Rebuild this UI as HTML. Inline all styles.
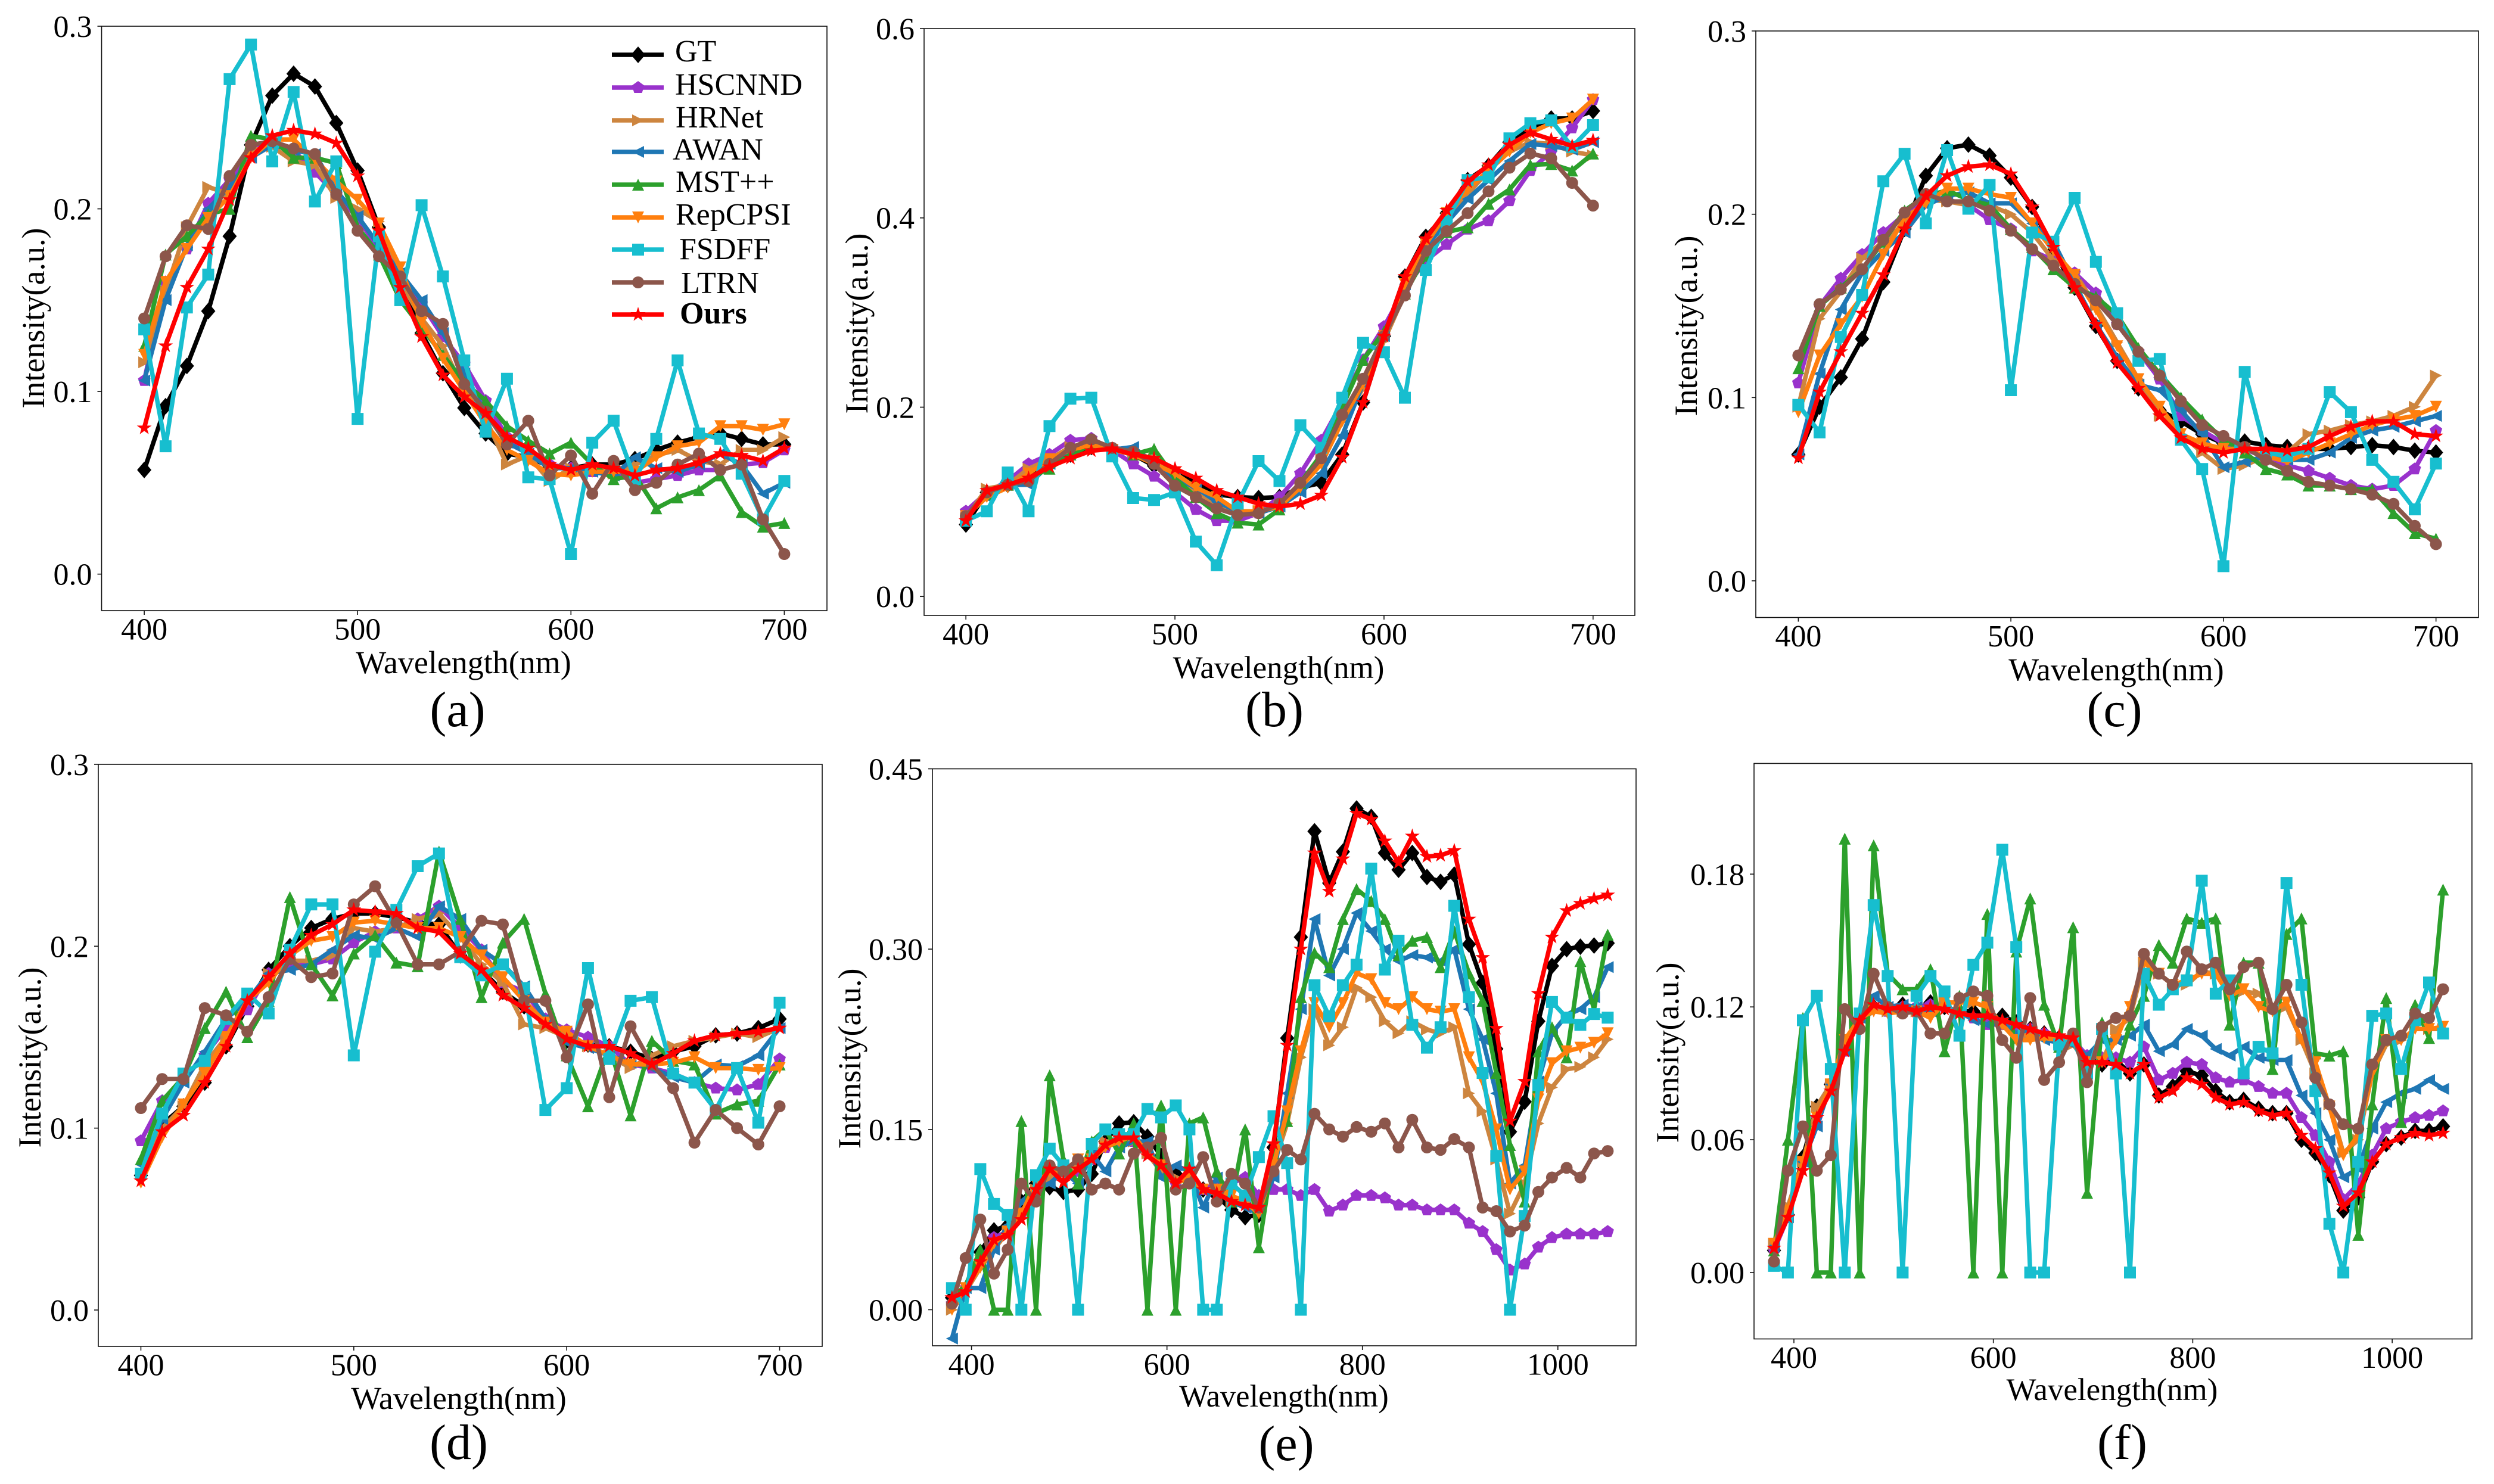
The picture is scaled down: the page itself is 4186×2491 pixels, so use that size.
<!DOCTYPE html>
<html lang="en">
<head>
<meta charset="utf-8">
<title>Spectral intensity comparison</title>
<style>
html,body{margin:0;padding:0;background:#fff;}
svg{display:block;}
text{font-family:"Liberation Serif",serif;fill:#000;}
.t{font-size:52px;}
.cap{font-size:84px;text-anchor:middle;}
.xl{font-size:54px;text-anchor:middle;}
.yl{font-size:54px;text-anchor:middle;}
</style>
</head>
<body>
<svg id="figure" xmlns="http://www.w3.org/2000/svg" width="4186" height="2491" viewBox="0 0 4186 2491">
<rect width="4186" height="2491" fill="#fff"/>
<g id="panels"></g>

<g>
<text class="xl" x="778" y="1130">Wavelength(nm)</text>
<text class="xl" x="2146" y="1138" style="font-size:53px">Wavelength(nm)</text>
<text class="xl" x="3552" y="1142">Wavelength(nm)</text>
<text class="xl" x="770" y="2365">Wavelength(nm)</text>
<text class="xl" x="2155" y="2361" style="font-size:52.5px">Wavelength(nm)</text>
<text class="xl" x="3545" y="2350" style="font-size:53px">Wavelength(nm)</text>
<text class="yl" transform="translate(74 534) rotate(-90)">Intensity(a.u.)</text>
<text class="yl" transform="translate(1456 543) rotate(-90)">Intensity(a.u.)</text>
<text class="yl" transform="translate(2848 547) rotate(-90)">Intensity(a.u.)</text>
<text class="yl" transform="translate(68 1775) rotate(-90)">Intensity(a.u.)</text>
<text class="yl" transform="translate(1444 1777) rotate(-90)">Intensity(a.u.)</text>
<text class="yl" transform="translate(2817 1767) rotate(-90)">Intensity(a.u.)</text>
</g>

<g>
<text class="cap" x="768" y="1219">(a)</text>
<text class="cap" x="2139" y="1219">(b)</text>
<text class="cap" x="3549" y="1219">(c)</text>
<text class="cap" x="770" y="2449">(d)</text>
<text class="cap" x="2159" y="2451">(e)</text>
<text class="cap" x="3562" y="2449">(f)</text>
</g>

<g stroke-width="7.5">
<g><line x1="1027" x2="1114" y1="92" y2="92" stroke="#000"/><path transform="translate(1071 92)" fill="#000" d="M0-14L12 0 0 14-12 0Z"/><text class="t" stroke="none" x="1133" y="103">GT</text></g>
<g><line x1="1027" x2="1114" y1="147" y2="147" stroke="#9932cc"/><path transform="translate(1071 147)" fill="#9932cc" d="M0-11L10.5-3.4 6.5 9-6.5 9-10.5-3.4Z"/><text class="t" stroke="none" x="1133" y="159">HSCNND</text></g>
<g><line x1="1027" x2="1114" y1="202" y2="202" stroke="#cd853f"/><path transform="translate(1071 202)" fill="#cd853f" d="M10 0L-10-10-10 10Z"/><text class="t" stroke="none" x="1134" y="214">HRNet</text></g>
<g><line x1="1027" x2="1114" y1="255" y2="255" stroke="#1f77b4"/><path transform="translate(1071 255)" fill="#1f77b4" d="M-10 0L10-10 10 10Z"/><text class="t" stroke="none" x="1129" y="268">AWAN</text></g>
<g><line x1="1027" x2="1114" y1="310" y2="310" stroke="#2ca02c"/><path transform="translate(1071 310)" fill="#2ca02c" d="M0-10L10 10-10 10Z"/><text class="t" stroke="none" x="1134" y="322">MST++</text></g>
<g><line x1="1027" x2="1114" y1="365" y2="365" stroke="#ff7f0e"/><path transform="translate(1071 365)" fill="#ff7f0e" d="M0 10L10-10-10-10Z"/><text class="t" stroke="none" x="1134" y="377">RepCPSI</text></g>
<g><line x1="1027" x2="1114" y1="419" y2="419" stroke="#17becf"/><path transform="translate(1071 419)" fill="#17becf" d="M-10-10H10V10H-10Z"/><text class="t" stroke="none" x="1140" y="435">FSDFF</text></g>
<g><line x1="1027" x2="1114" y1="474" y2="474" stroke="#8c564b"/><path transform="translate(1071 474)" fill="#8c564b" d="M-10 0a10 10 0 1 0 20 0a10 10 0 1 0-20 0Z"/><text class="t" stroke="none" x="1143" y="492">LTRN</text></g>
<g><line x1="1027" x2="1114" y1="528" y2="528" stroke="#ff0000"/><path transform="translate(1071 528)" fill="#ff0000" d="M0-13L2.9-4 12.4-4 4.8 1.5 7.6 10.5 0 5-7.6 10.5-4.8 1.5-12.4-4-2.9-4Z"/><text class="t" stroke="none" x="1141" y="543" font-weight="bold">Ours</text></g>
</g>
</svg>

<script>
// ---------- categories ----------
const wavelengthsVisible = [400,410,420,430,440,450,460,470,480,490,500,510,520,530,540,550,560,570,580,590,600,610,620,630,640,650,660,670,680,690,700];
const wavelengthsExtended = [380,394,409,423,437,451,466,480,494,509,523,537,551,566,580,594,609,623,637,651,666,680,694,709,723,737,751,766,780,794,809,823,837,851,866,880,894,909,923,937,951,966,980,994,1009,1023,1037,1051];

// ---------- tick labels ----------
const xTicksVisible = ['400','500','600','700'];
const xTicksExtended = ['400','600','800','1000'];
const yTicksA = ['0.0','0.1','0.2','0.3'];
const yTicksB = ['0.0','0.2','0.4','0.6'];
const yTicksC = ['0.0','0.1','0.2','0.3'];
const yTicksD = ['0.0','0.1','0.2','0.3'];
const yTicksE = ['0.00','0.15','0.30','0.45'];
const yTicksF = ['0.00','0.06','0.12','0.18'];

// ---------- panel (a) values ----------
const aGT = [.057,.092,.114,.144,.185,.235,.262,.274,.267,.247,.221,.19,.165,.132,.11,.091,.077,.066,.064,.059,.058,.060,.060,.063,.068,.072,.075,.077,.074,.071,.071];
const aHSCNND = [.106,.160,.178,.203,.216,.232,.236,.232,.220,.208,.195,.178,.162,.148,.130,.115,.095,.075,.065,.060,.058,.056,.056,.050,.052,.054,.057,.057,.060,.061,.068];
const aHRNet = [.116,.155,.190,.212,.208,.232,.234,.226,.224,.206,.200,.193,.160,.140,.125,.100,.085,.060,.065,.051,.058,.058,.055,.060,.065,.068,.062,.060,.068,.068,.075];
const aAWAN = [.106,.150,.180,.200,.212,.228,.235,.232,.230,.210,.196,.180,.165,.150,.132,.110,.088,.072,.066,.058,.058,.056,.054,.064,.058,.056,.060,.066,.060,.044,.050];
const aMST = [.125,.175,.185,.197,.200,.240,.238,.228,.228,.225,.190,.175,.150,.135,.120,.105,.095,.081,.073,.066,.072,.060,.052,.054,.036,.042,.046,.054,.034,.026,.028];
const aRepCPSI = [.120,.160,.178,.195,.207,.228,.238,.238,.227,.215,.205,.192,.168,.138,.118,.100,.082,.068,.062,.055,.054,.056,.056,.056,.064,.070,.072,.081,.081,.079,.082];
const aFSDFF = [.134,.070,.146,.164,.271,.290,.226,.264,.204,.226,.085,.185,.150,.202,.163,.117,.078,.107,.053,.052,.011,.072,.084,.052,.074,.117,.077,.074,.055,.03,.051];
const aLTRN = [.140,.174,.191,.189,.218,.235,.237,.233,.230,.208,.188,.174,.163,.144,.137,.104,.089,.071,.084,.054,.065,.044,.062,.046,.050,.060,.066,.057,.060,.030,.011];
const aOurs = [.080,.125,.157,.178,.205,.228,.240,.243,.241,.236,.218,.188,.157,.130,.109,.097,.088,.075,.069,.060,.057,.060,.058,.054,.057,.058,.061,.066,.065,.062,.069];

// ---------- panel (b) values ----------
const bGT = [.076,.110,.118,.125,.14,.15,.158,.155,.15,.138,.13,.12,.108,.105,.104,.105,.115,.12,.15,.205,.275,.338,.38,.405,.44,.455,.48,.495,.505,.505,.513];
const bHSCNND = [.09,.11,.122,.14,.15,.165,.167,.155,.14,.127,.11,.092,.08,.08,.088,.105,.13,.165,.205,.25,.285,.325,.355,.372,.388,.397,.418,.45,.47,.495,.525];
const bHRNet = [.083,.114,.118,.135,.145,.158,.16,.155,.153,.145,.125,.11,.095,.09,.09,.095,.115,.145,.185,.22,.27,.32,.37,.4,.425,.45,.47,.48,.478,.47,.466];
const bAWAN = [.085,.105,.118,.118,.14,.155,.16,.155,.158,.14,.125,.115,.1,.09,.088,.095,.11,.13,.17,.225,.275,.33,.37,.395,.42,.44,.46,.478,.476,.472,.48];
const bMST = [.085,.108,.118,.125,.135,.15,.16,.157,.15,.156,.125,.105,.088,.078,.076,.092,.12,.15,.2,.25,.28,.32,.36,.385,.39,.415,.43,.456,.457,.45,.468];
const bRepCPSI = [.085,.105,.115,.13,.145,.155,.16,.155,.15,.14,.13,.115,.105,.09,.09,.095,.115,.14,.185,.225,.275,.33,.372,.405,.43,.45,.47,.49,.5,.505,.525];
const bFSDFF = [.08,.09,.131,.09,.18,.209,.21,.148,.104,.102,.11,.058,.033,.098,.143,.122,.181,.157,.21,.268,.258,.21,.345,.396,.44,.443,.484,.5,.503,.475,.498];
const bLTRN = [.085,.11,.118,.122,.14,.157,.166,.157,.153,.14,.117,.105,.093,.086,.088,.098,.12,.146,.192,.23,.275,.318,.365,.386,.405,.428,.453,.468,.463,.437,.413];
const bOurs = [.08,.112,.118,.125,.137,.146,.154,.156,.15,.146,.135,.125,.112,.105,.098,.095,.098,.107,.147,.205,.275,.338,.378,.408,.438,.456,.477,.49,.483,.476,.482];

// ---------- panel (c) values ----------
const cGT = [.069,.095,.111,.132,.163,.192,.221,.236,.238,.232,.22,.204,.18,.16,.139,.12,.105,.093,.087,.08,.075,.076,.074,.073,.072,.072,.073,.074,.073,.071,.07];
const cHSCNND = [.108,.15,.165,.178,.19,.2,.21,.208,.205,.197,.192,.18,.175,.168,.157,.14,.125,.11,.09,.082,.075,.072,.067,.063,.06,.056,.052,.05,.052,.061,.082];
const cHRNet = [.095,.143,.158,.176,.185,.195,.208,.207,.205,.205,.2,.19,.175,.168,.15,.13,.11,.09,.08,.07,.061,.063,.068,.07,.08,.082,.085,.087,.09,.095,.112];
const cAWAN = [.069,.113,.148,.168,.18,.19,.205,.21,.212,.206,.206,.195,.185,.162,.14,.122,.107,.104,.093,.08,.062,.065,.068,.066,.066,.07,.078,.082,.084,.087,.09];
const cMST = [.116,.15,.16,.17,.185,.202,.21,.213,.208,.205,.192,.182,.17,.16,.155,.145,.127,.113,.1,.088,.077,.07,.061,.058,.052,.052,.05,.05,.037,.026,.023];
const cRepCPSI = [.092,.123,.14,.155,.178,.198,.206,.214,.214,.211,.209,.195,.18,.167,.148,.128,.11,.095,.08,.075,.072,.072,.068,.065,.07,.075,.08,.085,.088,.09,.095];
const cFSDFF = [.096,.081,.133,.156,.218,.233,.195,.235,.203,.216,.104,.19,.185,.209,.174,.146,.12,.121,.077,.061,.008,.114,.07,.068,.072,.103,.092,.066,.054,.039,.064];
const cLTRN = [.123,.151,.159,.17,.186,.201,.211,.207,.207,.202,.191,.181,.172,.162,.153,.14,.125,.112,.098,.085,.079,.073,.066,.06,.054,.052,.05,.047,.042,.03,.02];
const cOurs = [.067,.103,.125,.146,.167,.192,.21,.221,.226,.227,.222,.204,.182,.16,.14,.119,.105,.09,.078,.072,.07,.072,.072,.071,.073,.079,.084,.087,.087,.08,.079];

// ---------- panel (d) values ----------
const dGT = [.074,.102,.112,.125,.145,.167,.187,.2,.21,.215,.218,.218,.216,.213,.212,.195,.187,.175,.167,.158,.148,.146,.145,.142,.138,.142,.145,.151,.152,.155,.16];
const dHSCNND = [.093,.115,.127,.14,.155,.165,.185,.19,.19,.193,.202,.208,.21,.215,.222,.21,.198,.18,.175,.16,.154,.15,.145,.135,.133,.13,.125,.122,.121,.124,.138];
const dHRNet = [.075,.1,.112,.135,.15,.17,.185,.192,.192,.195,.21,.208,.21,.215,.218,.205,.19,.18,.157,.155,.15,.145,.14,.133,.14,.145,.148,.15,.152,.15,.155];
const dAWAN = [.08,.105,.125,.142,.16,.17,.185,.187,.19,.198,.206,.204,.21,.205,.222,.215,.198,.19,.178,.16,.147,.144,.14,.136,.133,.128,.125,.135,.134,.14,.155];
const dMST = [.083,.115,.128,.155,.175,.15,.17,.227,.19,.173,.196,.206,.191,.189,.252,.215,.172,.202,.215,.174,.14,.112,.145,.107,.148,.137,.135,.108,.113,.115,.135];
const dRepCPSI = [.07,.095,.113,.13,.15,.17,.18,.195,.203,.205,.213,.214,.212,.21,.21,.205,.195,.183,.17,.158,.153,.145,.14,.135,.135,.136,.139,.133,.133,.132,.133];
const dFSDFF = [.075,.108,.13,.137,.16,.174,.163,.198,.223,.223,.14,.197,.22,.244,.251,.194,.184,.19,.177,.11,.122,.188,.138,.17,.172,.13,.125,.11,.133,.103,.169];
const dLTRN = [.111,.127,.127,.166,.162,.153,.172,.193,.183,.185,.223,.233,.213,.19,.19,.197,.214,.212,.17,.17,.139,.168,.117,.156,.135,.122,.092,.11,.1,.091,.112];
const dOurs = [.071,.098,.107,.125,.145,.17,.183,.196,.206,.212,.22,.219,.218,.21,.208,.196,.187,.173,.166,.157,.149,.145,.145,.141,.135,.141,.148,.151,.152,.153,.155];

// ---------- panel (e) values ----------
const eGT = [.01,.017,.048,.066,.07,.09,.105,.102,.098,.1,.113,.14,.155,.156,.144,.128,.113,.11,.1,.095,.083,.077,.079,.135,.226,.31,.398,.355,.381,.417,.41,.38,.366,.38,.36,.356,.362,.304,.272,.217,.148,.173,.24,.286,.3,.302,.303,.305];
const eHSCNND = [.005,.018,.04,.06,.065,.08,.1,.11,.115,.115,.125,.135,.14,.14,.13,.115,.105,.11,.1,.105,.105,.11,.095,.1,.1,.095,.1,.082,.087,.095,.095,.093,.087,.087,.083,.083,.083,.072,.065,.05,.033,.038,.052,.06,.063,.063,.063,.065];
const eHRNet = [0,.015,.035,.05,.065,.08,.1,.11,.115,.12,.125,.14,.14,.14,.13,.115,.11,.105,.1,.1,.09,.09,.08,.12,.155,.21,.25,.22,.235,.268,.26,.24,.23,.24,.233,.23,.235,.18,.165,.125,.08,.105,.155,.185,.2,.202,.21,.225];
const eAWAN = [-.024,.018,.018,.05,.07,.09,.1,.105,.115,.105,.13,.115,.135,.14,.14,.11,.12,.115,.085,.11,.09,.085,.08,.11,.18,.25,.325,.278,.30,.33,.315,.30,.29,.295,.293,.29,.30,.25,.225,.18,.105,.12,.19,.23,.245,.25,.26,.285];
const eMST = [.01,.02,.05,0,0,.157,0,.195,.125,.105,.14,.15,.13,.155,0,.17,0,.155,.16,.115,.09,.15,.052,.13,.157,.26,.297,.285,.325,.35,.34,.325,.295,.307,.31,.285,.315,.28,.257,.197,.137,.09,.215,.235,.21,.29,.25,.312];
const eRepCPSI = [0,.018,.035,.055,.065,.08,.105,.115,.115,.125,.125,.135,.14,.145,.13,.12,.105,.11,.1,.1,.095,.09,.08,.12,.165,.215,.255,.235,.255,.28,.275,.255,.25,.26,.25,.248,.25,.21,.19,.15,.1,.115,.175,.205,.215,.218,.222,.23];
const eFSDFF = [.018,0,.117,.088,.079,0,.112,.134,.12,0,.138,.15,.146,.146,.167,.16,.17,.15,0,0,.105,.095,.127,.161,.122,0,.27,.244,.27,.287,.367,.283,.307,.237,.218,.235,.336,.26,.197,.128,0,.078,.187,.256,.243,.237,.246,.243];
const eLTRN = [.005,.043,.075,.03,.05,.105,.09,.12,.115,.125,.1,.105,.1,.13,.135,.143,.1,.105,.127,.09,.113,.105,.085,.115,.133,.125,.163,.15,.144,.152,.148,.155,.135,.158,.135,.133,.142,.135,.085,.082,.065,.07,.098,.11,.118,.11,.13,.132];
const eOurs = [.01,.015,.04,.058,.062,.075,.1,.117,.106,.117,.125,.137,.143,.143,.128,.12,.105,.117,.1,.097,.09,.087,.085,.138,.22,.3,.38,.348,.375,.413,.408,.39,.372,.394,.377,.378,.382,.325,.293,.234,.157,.19,.263,.31,.332,.338,.342,.345];

// ---------- panel (f) values ----------
const fGT = [.01,.026,.052,.075,.085,.101,.115,.12,.119,.121,.119,.122,.12,.118,.118,.115,.116,.113,.11,.108,.106,.106,.097,.094,.096,.09,.094,.08,.084,.091,.089,.082,.077,.078,.074,.072,.072,.06,.054,.044,.028,.034,.05,.058,.061,.064,.064,.066];
const fHSCNND = [.01,.025,.05,.07,.085,.1,.115,.12,.118,.12,.12,.121,.12,.118,.115,.112,.112,.11,.11,.108,.105,.105,.098,.097,.097,.095,.102,.087,.09,.095,.094,.088,.086,.087,.084,.081,.081,.07,.062,.05,.033,.04,.053,.065,.068,.07,.071,.073];
const fHRNet = [.013,.03,.05,.075,.085,.105,.115,.118,.118,.118,.118,.118,.122,.122,.122,.12,.112,.105,.108,.107,.104,.103,.095,.095,.11,.115,.14,.135,.13,.13,.136,.135,.128,.127,.126,.12,.12,.105,.09,.076,.054,.06,.09,.103,.105,.11,.11,.11];
const fAWAN = [.012,.025,.05,.066,.085,.1,.115,.125,.12,.121,.12,.118,.12,.118,.114,.112,.113,.108,.11,.105,.104,.103,.098,.105,.105,.107,.112,.1,.103,.11,.107,.101,.098,.102,.097,.096,.096,.08,.072,.06,.043,.047,.065,.077,.081,.083,.087,.083];
const fMST = [.01,.06,.115,0,0,.196,0,.193,.135,.128,.128,.137,.10,.125,0,.162,0,.145,.169,.121,.102,.156,.036,.113,.09,.112,.125,.148,.14,.16,.158,.16,.112,.14,.14,.092,.153,.16,.099,.098,.1,.017,.076,.124,.068,.121,.106,.173];
const fRepCPSI = [.013,.028,.05,.07,.085,.105,.115,.118,.117,.118,.118,.115,.122,.122,.122,.12,.112,.105,.105,.106,.105,.105,.095,.095,.105,.12,.14,.135,.13,.132,.135,.135,.125,.128,.12,.118,.122,.105,.095,.075,.053,.062,.09,.105,.105,.11,.11,.111];
const fFSDFF = [.003,0,.114,.125,.092,0,.117,.166,.134,0,.125,.134,.127,.107,.139,.149,.191,.147,0,0,.103,.105,.09,.11,.09,0,.135,.121,.128,.132,.177,.126,.132,.09,.102,.099,.176,.13,.082,.022,0,.05,.116,.117,.092,.114,.131,.108];
const fLTRN = [.005,.046,.066,.046,.053,.119,.11,.135,.12,.117,.118,.108,.108,.124,.127,.125,.105,.097,.124,.087,.095,.108,.086,.111,.115,.116,.144,.135,.13,.145,.137,.14,.128,.138,.14,.119,.13,.113,.088,.076,.067,.065,.094,.105,.107,.117,.115,.128];
const fOurs = [.011,.025,.046,.07,.082,.1,.114,.121,.119,.12,.118,.12,.119,.117,.116,.116,.114,.112,.11,.108,.107,.106,.095,.095,.094,.09,.094,.079,.082,.088,.085,.079,.076,.077,.073,.071,.072,.062,.056,.045,.03,.036,.05,.058,.061,.063,.062,.063];

// ---------- styles ----------
const SERIES_STYLE = [
  {key:'gt', color:'#000000', marker:'M0-14L12 0 0 14-12 0Z'},
  {key:'hscnnd', color:'#9932cc', marker:'M0-11L10.5-3.4 6.5 9-6.5 9-10.5-3.4Z'},
  {key:'hrnet', color:'#cd853f', marker:'M10 0L-10-10-10 10Z'},
  {key:'awan', color:'#1f77b4', marker:'M-10 0L10-10 10 10Z'},
  {key:'mst', color:'#2ca02c', marker:'M0-10L10 10-10 10Z'},
  {key:'repcpsi', color:'#ff7f0e', marker:'M0 10L10-10-10-10Z'},
  {key:'fsdff', color:'#17becf', marker:'M-10-10H10V10H-10Z'},
  {key:'ltrn', color:'#8c564b', marker:'M-10 0a10 10 0 1 0 20 0a10 10 0 1 0-20 0Z'},
  {key:'ours', color:'#ff0000', marker:'M0-13L2.9-4 12.4-4 4.8 1.5 7.6 10.5 0 5-7.6 10.5-4.8 1.5-12.4-4-2.9-4Z'}
];

const PANELS = [
  {id:'a', l:170.5, r:1388, t:44, b:1025, xMin:380, xMax:720, yMin:-.02, yMax:.3, xs:wavelengthsVisible, xTicks:xTicksVisible, yTicks:yTicksA, series:[aGT,aHSCNND,aHRNet,aAWAN,aMST,aRepCPSI,aFSDFF,aLTRN,aOurs]},
  {id:'b', l:1551, r:2744, t:48, b:1033, xMin:380, xMax:720, yMin:-.02, yMax:.6, xs:wavelengthsVisible, xTicks:xTicksVisible, yTicks:yTicksB, series:[bGT,bHSCNND,bHRNet,bAWAN,bMST,bRepCPSI,bFSDFF,bLTRN,bOurs]},
  {id:'c', l:2947, r:4160, t:52, b:1036.5, xMin:380, xMax:720, yMin:-.02, yMax:.3, xs:wavelengthsVisible, xTicks:xTicksVisible, yTicks:yTicksC, series:[cGT,cHSCNND,cHRNet,cAWAN,cMST,cRepCPSI,cFSDFF,cLTRN,cOurs]},
  {id:'d', l:165, r:1380, t:1283, b:2260, xMin:380, xMax:720, yMin:-.02, yMax:.3, xs:wavelengthsVisible, xTicks:xTicksVisible, yTicks:yTicksD, series:[dGT,dHSCNND,dHRNet,dAWAN,dMST,dRepCPSI,dFSDFF,dLTRN,dOurs]},
  {id:'e', l:1565, r:2746, t:1290.5, b:2259, xMin:360, xMax:1080, yMin:-.03, yMax:.45, xs:wavelengthsExtended, xTicks:xTicksExtended, yTicks:yTicksE, series:[eGT,eHSCNND,eHRNet,eAWAN,eMST,eRepCPSI,eFSDFF,eLTRN,eOurs]},
  {id:'f', l:2944, r:4149, t:1281.5, b:2247.5, xMin:360, xMax:1080, yMin:-.03, yMax:.23, xs:wavelengthsExtended, xTicks:xTicksExtended, yTicks:yTicksF, series:[fGT,fHSCNND,fHRNet,fAWAN,fMST,fRepCPSI,fFSDFF,fLTRN,fOurs]}
];

const NS = 'http://www.w3.org/2000/svg';
const root = document.getElementById('panels');

function make(tag, parent) {
  const el = document.createElementNS(NS, tag);
  parent.appendChild(el);
  return el;
}

function drawPanel(p) {
  const xScale = v => p.l + (v - p.xMin) / (p.xMax - p.xMin) * (p.r - p.l);
  const yScale = v => p.b - (v - p.yMin) / (p.yMax - p.yMin) * (p.b - p.t);

  const g = make('g', root);
  
  

  SERIES_STYLE.forEach((style, si) => {
    const values = p.series[si];
    const sg = make('g', g);
    
    
    sg.setAttribute('fill', style.color);

    const line = make('polyline', sg);
    
    
    line.setAttribute('fill', 'none');
    line.setAttribute('stroke', style.color);
    line.setAttribute('stroke-width', '7.5');
    line.setAttribute('stroke-linejoin', 'round');
    line.setAttribute('points', values.map((v, i) => xScale(p.xs[i]).toFixed(1) + ',' + yScale(v).toFixed(1)).join(' '));

    values.forEach((v, i) => {
      const pt = make('path', sg);
      
      
      pt.setAttribute('d', style.marker);
      pt.setAttribute('transform', 'translate(' + xScale(p.xs[i]).toFixed(1) + ' ' + yScale(v).toFixed(1) + ')');
    });
  });

  const frame = make('rect', g);
  
  
  frame.setAttribute('x', p.l);
  frame.setAttribute('y', p.t);
  frame.setAttribute('width', p.r - p.l);
  frame.setAttribute('height', p.b - p.t);
  frame.setAttribute('fill', 'none');
  frame.setAttribute('stroke', '#111');
  frame.setAttribute('stroke-width', '1.6');

  p.xTicks.forEach(label => {
    const x = xScale(parseFloat(label));
    const tick = make('line', g);
    
    
    tick.setAttribute('x1', x);
    tick.setAttribute('x2', x);
    tick.setAttribute('y1', p.b);
    tick.setAttribute('y2', p.b + 7);
    tick.setAttribute('stroke', '#111');
    tick.setAttribute('stroke-width', '1.6');
    const txt = make('text', g);
    
    
    txt.setAttribute('class', 't');
    txt.setAttribute('x', x);
    txt.setAttribute('y', p.b + 48.5);
    txt.setAttribute('text-anchor', 'middle');
    txt.textContent = label;
  });

  p.yTicks.forEach(label => {
    const y = yScale(parseFloat(label));
    const tick = make('line', g);
    
    
    tick.setAttribute('x1', p.l - 7);
    tick.setAttribute('x2', p.l);
    tick.setAttribute('y1', y);
    tick.setAttribute('y2', y);
    tick.setAttribute('stroke', '#111');
    tick.setAttribute('stroke-width', '1.6');
    const txt = make('text', g);
    
    
    txt.setAttribute('class', 't');
    txt.setAttribute('x', p.l - 16);
    txt.setAttribute('y', y + 18);
    txt.setAttribute('text-anchor', 'end');
    txt.textContent = label;
  });
}

PANELS.forEach(drawPanel);
</script>
</body>
</html>
